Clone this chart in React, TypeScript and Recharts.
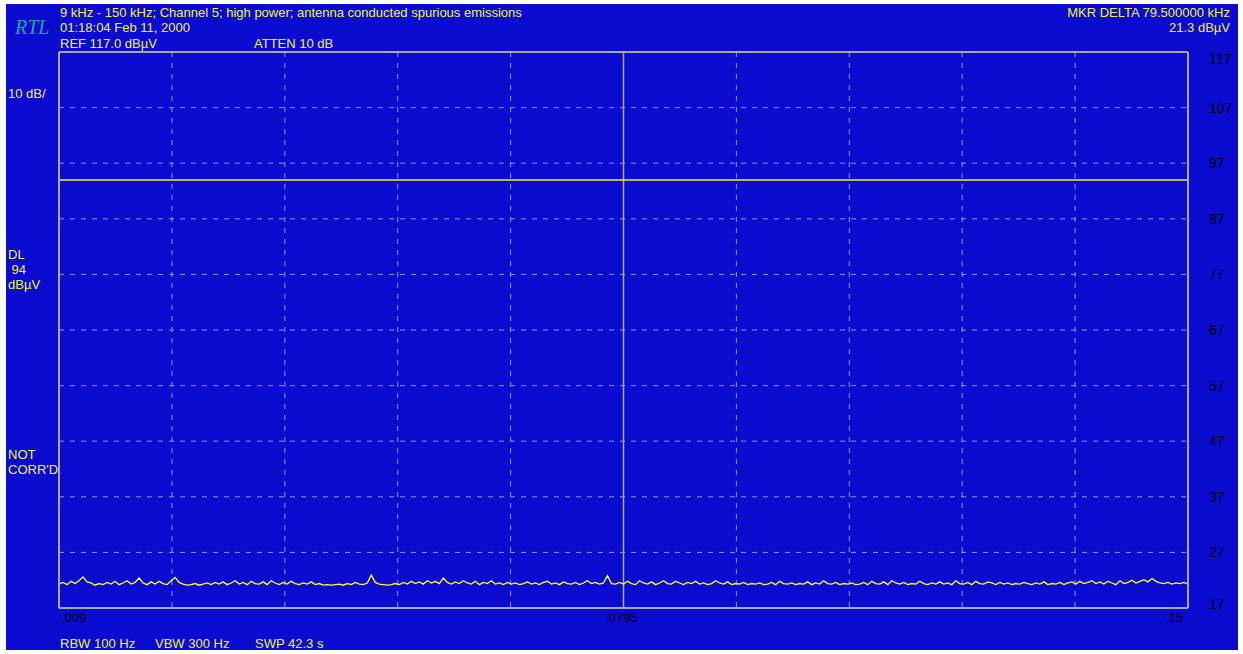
import React from 'react';
import { LineChart, Line, XAxis, YAxis, CartesianGrid, ReferenceLine } from 'recharts';

// Sweep (MHz)
const SWEEP_START = 0.009;
const SWEEP_STOP = 0.15;

// Trace levels (dBµV), ~4 px per point
const LEVELS = [
  21.3, 21.6, 21.2, 21.8, 21.4, 21.9, 22.6, 21.7, 21.5, 21.1, 21.4, 21.2, 21.6, 21.3, 21.8, 21.2, 21.5, 21.9, 21.3, 21.6,
  22.4, 21.5, 21.2, 21.7, 21.3, 21.8, 21.4, 21.2, 21.9, 22.5, 21.6, 21.3, 21.1, 21.2, 21.4, 21.1, 21.3, 21.5, 21.2, 21.6,
  21.3, 21.7, 21.2, 21.5, 21.9, 21.3, 21.6, 21.2, 21.8, 21.4, 21.3, 21.7, 21.2, 21.9, 21.5, 21.2, 21.6, 21.3, 21.8, 21.4,
  21.2, 21.5, 21.3, 21.7, 21.2, 21.4, 21.1, 21.2, 21.1, 21.2, 21.3, 21.1, 21.4, 21.2, 21.6, 21.3, 21.2, 21.5, 22.9, 21.6,
  21.3, 21.2, 21.1, 21.2, 21.4, 21.2, 21.6, 21.3, 21.8, 21.4, 21.7, 21.3, 21.9, 21.5, 21.8, 21.4, 22.4, 21.6, 21.3, 21.7,
  21.4, 21.9, 21.5, 21.3, 21.8, 21.2, 21.6, 21.4, 21.9, 21.3, 21.5, 21.2, 21.6, 21.3, 21.5, 21.2, 21.4, 21.7, 21.3, 21.5,
  21.2, 21.6, 21.8, 21.3, 21.5, 21.2, 21.7, 21.4, 21.3, 21.6, 21.2, 21.5, 21.9, 21.4, 21.6, 21.3, 21.5, 22.8, 21.4, 21.3,
  21.6, 21.3, 21.8, 21.4, 21.2, 21.9, 21.5, 21.3, 21.7, 21.2, 21.5, 21.9, 21.4, 21.3, 21.8, 21.5, 21.2, 21.6, 21.4, 21.8,
  21.3, 21.5, 21.2, 21.4, 21.9, 21.5, 21.3, 21.7, 21.2, 21.4, 21.3, 21.6, 21.2, 21.4, 21.3, 21.5, 21.2, 21.3, 21.6, 21.2,
  21.8, 21.4, 21.3, 21.5, 21.2, 21.4, 21.3, 21.7, 21.2, 21.5, 21.3, 21.9, 21.4, 21.3, 21.6, 21.2, 21.4, 21.3, 21.5, 21.2,
  21.3, 21.6, 21.2, 21.8, 21.4, 21.3, 21.7, 21.2, 21.9, 21.5, 21.3, 21.6, 21.2, 21.4, 21.3, 21.8, 21.4, 21.2, 21.5, 21.3,
  21.7, 21.3, 21.5, 21.2, 21.9, 21.4, 21.3, 21.6, 21.2, 21.8, 21.4, 21.3, 21.7, 21.5, 21.2, 21.6, 21.3, 21.5, 21.2, 21.4,
  21.3, 21.6, 21.4, 21.2, 21.5, 21.3, 21.7, 21.2, 21.4, 21.3, 21.6, 21.2, 21.5, 21.7, 21.3, 21.8, 21.4, 21.6, 21.9, 21.4,
  21.7, 21.3, 21.8, 21.5, 21.2, 21.9, 21.4, 21.6, 22.0, 21.5, 21.8, 22.1, 21.7, 22.3, 21.8, 21.5, 21.4, 21.6, 21.3, 21.5,
  21.4, 21.6, 21.3,
];

const GRID_X = [0.009, 0.0231, 0.0372, 0.0513, 0.0654, 0.0795, 0.0936, 0.1077, 0.1218, 0.1359, 0.15];
const X_LABELS: Record<string, string> = { '0.009': '.009', '0.0795': '.0795', '0.15': '.15' };
const CENTER_FREQ = 0.0795;
const Y_TICKS = [17, 27, 37, 47, 57, 67, 77, 87, 97, 107, 117];
const DISPLAY_LINE = 94;

const HEADER_LEFT = [
  '9 kHz - 150 kHz; Channel 5; high power; antenna conducted spurious emissions',
  '01:18:04 Feb 11, 2000',
  'REF 117.0 dBµV',
];
const ATTEN = 'ATTEN 10 dB';
const HEADER_RIGHT = ['MKR DELTA 79.500000 kHz', '21.3 dBµV'];
const FOOTER = ['RBW 100 Hz', 'VBW 300 Hz', 'SWP 42.3 s'];

const data = LEVELS.map((v, i) => ({
  f: SWEEP_START + (i * (SWEEP_STOP - SWEEP_START)) / (LEVELS.length - 1),
  v,
}));

const BLUE = '#0c0cd0';
const YEL = '#f0f03a';
const GRID = '#9494c4';
const FRAME = '#a8a8a8';
const FONT = '"Liberation Sans", Arial, sans-serif';

const XTick = (props: any) => {
  const { x, payload } = props;
  const key = String(payload.value);
  const label = X_LABELS[key];
  if (!label) return null;
  const anchor = payload.value === SWEEP_START ? 'start' : payload.value === SWEEP_STOP ? 'end' : 'middle';
  const dx = anchor === 'start' ? 2 : anchor === 'end' ? -5 : -2;
  return (
    <text x={x + dx} y={622} textAnchor={anchor} fill="#000" fontSize={13} fontFamily={FONT}>
      {label}
    </text>
  );
};

const YTick = (props: any) => {
  const { y, payload } = props;
  let dy = 5;
  if (payload.value === 117) dy = 12;
  if (payload.value === 17) dy = 1;
  return (
    <text x={1209} y={y + dy} textAnchor="start" fill="#000" fontSize={14} fontFamily={FONT}>
      {payload.value}
    </text>
  );
};

const txt = (s: string, left: number, top: number, extra: React.CSSProperties = {}) => (
  <div
    key={s + left + top}
    style={{
      position: 'absolute',
      left,
      top,
      color: YEL,
      fontFamily: FONT,
      fontSize: 13,
      lineHeight: '15px',
      whiteSpace: 'pre',
      ...extra,
    }}
  >
    {s}
  </div>
);

export default function App() {
  return (
    <div style={{ position: 'absolute', left: 0, top: 0, width: 1243, height: 654, background: '#fff', overflow: 'hidden' }}>
      <div style={{ position: 'absolute', left: 6, top: 4, width: 1232, height: 646, background: BLUE }} />
      <div style={{ position: 'absolute', left: 0, top: 0 }}>
        <LineChart width={1243} height={654} data={data} margin={{ top: 52, left: 59, right: 0, bottom: 0 }}>
          <CartesianGrid stroke={GRID} strokeDasharray="5 6" strokeWidth={1} />
          <XAxis
            dataKey="f"
            type="number"
            domain={[SWEEP_START, SWEEP_STOP]}
            ticks={GRID_X}
            interval={0}
            height={46}
            axisLine={false}
            tickLine={false}
            tick={<XTick />}
          />
          <YAxis
            orientation="right"
            type="number"
            domain={[17, 117]}
            ticks={Y_TICKS}
            interval={0}
            width={55}
            axisLine={false}
            tickLine={false}
            tick={<YTick />}
          />
          <ReferenceLine x={CENTER_FREQ} stroke={FRAME} strokeWidth={1.5} />
          <ReferenceLine y={DISPLAY_LINE} stroke={YEL} strokeWidth={1.5} />
          <Line dataKey="v" stroke="#ffff20" strokeWidth={1.3} dot={false} isAnimationActive={false} />
          <ReferenceLine x={SWEEP_START} stroke={FRAME} strokeWidth={2} />
          <ReferenceLine x={SWEEP_STOP} stroke={FRAME} strokeWidth={2} />
          <ReferenceLine y={17} stroke={FRAME} strokeWidth={2} />
          <ReferenceLine y={117} stroke={FRAME} strokeWidth={2} />
        </LineChart>
      </div>
      <div
        style={{
          position: 'absolute',
          left: 15,
          top: 16,
          color: '#2aa0a8',
          fontFamily: '"Liberation Serif", "Times New Roman", serif',
          fontStyle: 'italic',
          fontSize: 20,
          lineHeight: '22px',
        }}
      >
        RTL
      </div>
      {txt(HEADER_LEFT[0], 60, 5)}
      {txt(HEADER_LEFT[1], 60, 20)}
      {txt(HEADER_LEFT[2], 60, 36)}
      {txt(ATTEN, 254, 36)}
      <div style={{ position: 'absolute', right: 1243 - 1230, top: 5, textAlign: 'right', color: YEL, fontFamily: FONT, fontSize: 13, lineHeight: '15px' }}>
        {HEADER_RIGHT.map((s) => (
          <div key={s}>{s}</div>
        ))}
      </div>
      {txt('10 dB/', 8, 86)}
      {txt('DL', 8, 247)}
      {txt(' 94', 8, 262)}
      {txt('dBµV', 8, 277)}
      {txt('NOT', 8, 447)}
      {txt("CORR'D", 8, 462)}
      {txt(FOOTER[0], 60, 636)}
      {txt(FOOTER[1], 155, 636)}
      {txt(FOOTER[2], 255, 636)}
    </div>
  );
}
